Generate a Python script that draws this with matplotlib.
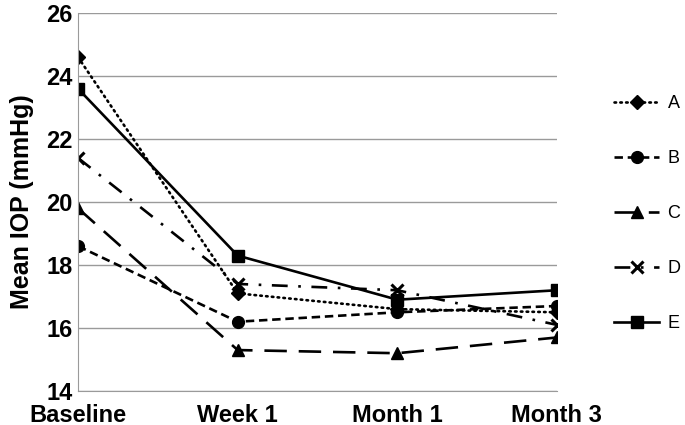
import matplotlib
matplotlib.use("Agg")
import matplotlib.pyplot as plt

plt.rcParams['font.family'] = ['Liberation Sans', 'DejaVu Sans']

timepoints = ["Baseline", "Week 1", "Month 1", "Month 3"]
A = [24.6, 17.1, 16.6, 16.5]
B = [18.6, 16.2, 16.5, 16.7]
C = [19.8, 15.3, 15.2, 15.7]
D = [21.4, 17.4, 17.2, 16.1]
E = [23.6, 18.3, 16.9, 17.2]

fig = plt.figure(figsize=(6.85, 4.25), dpi=100)
ax = fig.add_axes([0.114, 0.08, 0.699, 0.889])

x = range(len(timepoints))
lw = 1.9
ax.plot(x, A, color='black', lw=lw, linestyle=(0, (0.6, 1.6)), dash_capstyle='round',
        marker='D', ms=7, label='A')
ax.plot(x, B, color='black', lw=lw, linestyle=(0, (3.2, 1.8)),
        marker='o', ms=8.5, label='B')
ax.plot(x, C, color='black', lw=lw, linestyle=(0, (8.5, 4.5)),
        marker='^', ms=8.5, label='C')
ax.plot(x, D, color='black', lw=lw, linestyle=(0, (6, 4, 1, 4)),
        marker='x', ms=9, mew=2.2, label='D')
ax.plot(x, E, color='black', lw=lw, linestyle='-',
        marker='s', ms=8, label='E')

ax.set_xlim(0, 3)
ax.set_ylim(14, 26)
ax.set_yticks(range(14, 27, 2))
ax.set_xticks(list(x))
ax.set_xticklabels(timepoints)
ax.yaxis.grid(True, color='#9a9a9a', lw=1)
ax.set_axisbelow(True)
ax.tick_params(length=0, labelsize=17)
ax.tick_params(axis='x', pad=9)
ax.tick_params(axis='y', pad=4)
for lbl in ax.get_xticklabels() + ax.get_yticklabels():
    lbl.set_fontweight('bold')
for s in ['top', 'right']:
    ax.spines[s].set_visible(False)
ax.spines['left'].set_color('#9a9a9a')
ax.spines['bottom'].set_color('#9a9a9a')
ax.set_ylabel("Mean IOP (mmHg)", fontsize=18, fontweight='bold', labelpad=9)

fig.legend(loc='center left', bbox_to_anchor=(0.873, 0.497), frameon=False,
           fontsize=13, handlelength=2.5, labelspacing=2.1, handletextpad=0.45)

fig.savefig("out.png", dpi=100)
